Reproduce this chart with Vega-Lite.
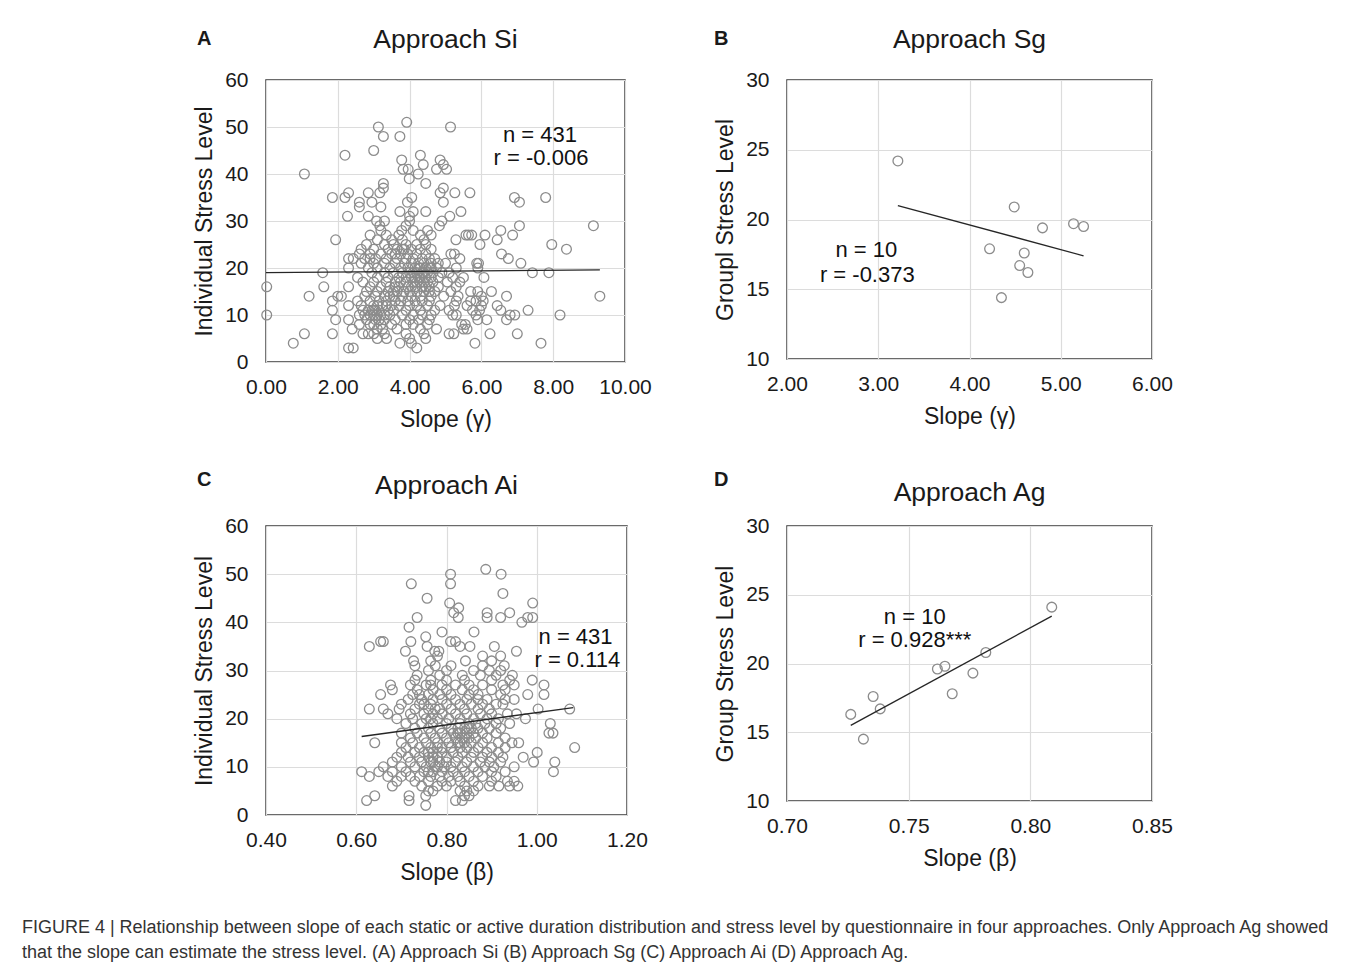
{
"$schema": "https://vega.github.io/schema/vega-lite/v6.json",
"background": "white",
"padding": {"left": 21, "top": 25, "right": 5, "bottom": 5},
"title": {"text": ["FIGURE 4 | Relationship between slope of each static or active duration distribution and stress level by questionnaire in four approaches. Only Approach Ag showed", "that the slope can estimate the stress level. (A) Approach Si (B) Approach Sg (C) Approach Ai (D) Approach Ag."], "orient": "bottom", "anchor": "start", "font": "Liberation Sans", "fontSize": 18, "fontWeight": "normal", "lineHeight": 25, "dx": -171, "offset": 34, "color": "#333333"},
"spacing": 37,
"vconcat": [
{"hconcat": [
{"title": {"text": "A", "anchor": "start", "fontSize": 20, "fontWeight": "bold", "dy": 23, "dx": 4, "offset": 0},
 "vconcat": [{
  "title": {"text": "Approach Si", "offset": 16},
  "width": 359, "height": 282,
  "encoding": {
   "x": {"field": "x", "type": "quantitative", "scale": {"domain": [0, 10], "nice": false, "zero": false}, "axis": {"title": "Slope (γ)", "values": [0, 2, 4, 6, 8, 10], "format": ".2f"}},
   "y": {"field": "y", "type": "quantitative", "scale": {"domain": [0, 60], "nice": false, "zero": false}, "axis": {"title": "Individual Stress Level", "values": [0, 10, 20, 30, 40, 50, 60]}}
  },
  "layer": [
   {"data": {"name": "A"}, "mark": {"type": "point", "shape": "circle", "filled": false, "size": 95, "color": "#8c8c8c", "strokeWidth": 1.3, "opacity": 1}},
   {"data": {"name": "LA"}, "mark": {"type": "line", "color": "#262626", "strokeWidth": 1.3}},
   {"data": {"name": "TA"}, "mark": {"type": "text", "fontSize": 22, "color": "#111111"}, "encoding": {"text": {"field": "t"}}}
  ]
 }]
},
{"title": {"text": "B", "anchor": "start", "fontSize": 20, "fontWeight": "bold", "dy": 23, "dx": 0, "offset": 0},
 "vconcat": [{
  "title": {"text": "Approach Sg", "offset": 16},
  "width": 365, "height": 279,
  "encoding": {
   "x": {"field": "x", "type": "quantitative", "scale": {"domain": [2, 6], "nice": false, "zero": false}, "axis": {"title": "Slope (γ)", "values": [2, 3, 4, 5, 6], "format": ".2f"}},
   "y": {"field": "y", "type": "quantitative", "scale": {"domain": [10, 30], "nice": false, "zero": false}, "axis": {"title": "Groupl Stress Level", "values": [10, 15, 20, 25, 30]}}
  },
  "layer": [
   {"data": {"name": "B"}, "mark": {"type": "point", "shape": "circle", "filled": false, "size": 95, "color": "#8c8c8c", "strokeWidth": 1.3, "opacity": 1}},
   {"data": {"name": "LB"}, "mark": {"type": "line", "color": "#262626", "strokeWidth": 1.3}},
   {"data": {"name": "TB"}, "mark": {"type": "text", "fontSize": 22, "color": "#111111"}, "encoding": {"text": {"field": "t"}}}
  ]
 }]
}
], "spacing": 60},
{"hconcat": [
{"title": {"text": "C", "anchor": "start", "fontSize": 20, "fontWeight": "bold", "dy": 18, "dx": 4, "offset": 0},
 "vconcat": [{
  "title": {"text": "Approach Ai", "offset": 16},
  "width": 361, "height": 289,
  "encoding": {
   "x": {"field": "x", "type": "quantitative", "scale": {"domain": [0.4, 1.2], "nice": false, "zero": false}, "axis": {"title": "Slope (β)", "values": [0.4, 0.6, 0.8, 1.0, 1.2], "format": ".2f"}},
   "y": {"field": "y", "type": "quantitative", "scale": {"domain": [0, 60], "nice": false, "zero": false}, "axis": {"title": "Individual Stress Level", "values": [0, 10, 20, 30, 40, 50, 60]}}
  },
  "layer": [
   {"data": {"name": "C"}, "mark": {"type": "point", "shape": "circle", "filled": false, "size": 95, "color": "#8c8c8c", "strokeWidth": 1.3, "opacity": 1}},
   {"data": {"name": "LC"}, "mark": {"type": "line", "color": "#262626", "strokeWidth": 1.3}},
   {"data": {"name": "TC"}, "mark": {"type": "text", "fontSize": 22, "color": "#111111"}, "encoding": {"text": {"field": "t"}}}
  ]
 }]
},
{"title": {"text": "D", "anchor": "start", "fontSize": 20, "fontWeight": "bold", "dy": 11, "dx": 0, "offset": 0},
 "vconcat": [{
  "title": {"text": "Approach Ag", "offset": 9},
  "width": 365, "height": 275,
  "encoding": {
   "x": {"field": "x", "type": "quantitative", "scale": {"domain": [0.7, 0.85], "nice": false, "zero": false}, "axis": {"title": "Slope (β)", "values": [0.7, 0.75, 0.8, 0.85], "format": ".2f"}},
   "y": {"field": "y", "type": "quantitative", "scale": {"domain": [10, 30], "nice": false, "zero": false}, "axis": {"title": "Group Stress Level", "values": [10, 15, 20, 25, 30]}}
  },
  "layer": [
   {"data": {"name": "D"}, "mark": {"type": "point", "shape": "circle", "filled": false, "size": 95, "color": "#8c8c8c", "strokeWidth": 1.3, "opacity": 1}},
   {"data": {"name": "LD"}, "mark": {"type": "line", "color": "#262626", "strokeWidth": 1.3}},
   {"data": {"name": "TD"}, "mark": {"type": "text", "fontSize": 22, "color": "#111111"}, "encoding": {"text": {"field": "t"}}}
  ]
 }]
}
], "spacing": 64}
],
"datasets": {
"LA": [{"x": 0, "y": 19.0}, {"x": 9.3, "y": 19.6}],
"LB": [{"x": 3.215, "y": 21.0}, {"x": 5.25, "y": 17.4}],
"LC": [{"x": 0.612, "y": 16.3}, {"x": 1.081, "y": 22.3}],
"LD": [{"x": 0.7262, "y": 15.5}, {"x": 0.8088, "y": 23.45}],
"TA": [{"x": 7.63, "y": 48.3, "t": "n = 431"}, {"x": 7.66, "y": 43.3, "t": "r = -0.006"}],
"TB": [{"x": 2.87, "y": 17.8, "t": "n = 10"}, {"x": 2.88, "y": 16.0, "t": "r = -0.373"}],
"TC": [{"x": 1.086, "y": 37.0, "t": "n = 431"}, {"x": 1.09, "y": 32.2, "t": "r = 0.114"}],
"TD": [{"x": 0.7525, "y": 23.4, "t": "n = 10"}, {"x": 0.7525, "y": 21.7, "t": "r = 0.928***"}],
"B": [{"x": 3.215, "y": 24.2}, {"x": 4.49, "y": 20.9}, {"x": 4.8, "y": 19.4}, {"x": 5.14, "y": 19.7}, {"x": 5.25, "y": 19.5}, {"x": 4.22, "y": 17.9}, {"x": 4.6, "y": 17.6}, {"x": 4.55, "y": 16.7}, {"x": 4.64, "y": 16.2}, {"x": 4.35, "y": 14.4}],
"D": [{"x": 0.8088, "y": 24.1}, {"x": 0.7817, "y": 20.8}, {"x": 0.7649, "y": 19.8}, {"x": 0.7618, "y": 19.6}, {"x": 0.7764, "y": 19.3}, {"x": 0.7679, "y": 17.8}, {"x": 0.7354, "y": 17.6}, {"x": 0.7383, "y": 16.7}, {"x": 0.7262, "y": 16.3}, {"x": 0.7314, "y": 14.5}],
"A": [
{"x":2.3,"y":3},{"x":2.43,"y":3},{"x":4.2,"y":3},
{"x":0.76,"y":4},{"x":3.73,"y":4},{"x":5.82,"y":4},{"x":7.66,"y":4},{"x":4.05,"y":4},
{"x":3.36,"y":5},{"x":4.0,"y":5},{"x":4.45,"y":5},{"x":3.1,"y":5},
{"x":1.07,"y":6},{"x":1.85,"y":6},{"x":2.7,"y":6},{"x":3.0,"y":6},{"x":3.3,"y":6},{"x":4.4,"y":6},{"x":5.1,"y":6},{"x":5.23,"y":6},{"x":6.24,"y":6},{"x":7.0,"y":6},{"x":2.85,"y":6},{"x":3.9,"y":6},
{"x":2.4,"y":7},{"x":3.1,"y":7},{"x":3.25,"y":7},{"x":4.75,"y":7},{"x":5.5,"y":7},{"x":5.6,"y":7},{"x":4.3,"y":7},{"x":3.65,"y":7},
{"x":2.6,"y":8},{"x":3.0,"y":8},{"x":3.2,"y":8},{"x":3.5,"y":8},{"x":3.9,"y":8},{"x":4.5,"y":8},{"x":5.45,"y":8},{"x":5.55,"y":8},{"x":2.9,"y":8},{"x":4.1,"y":8},
{"x":1.94,"y":9},{"x":2.3,"y":9},{"x":3.05,"y":9},{"x":3.3,"y":9},{"x":3.6,"y":9},{"x":4.0,"y":9},{"x":4.55,"y":9},{"x":5.9,"y":9},{"x":6.15,"y":9},{"x":6.7,"y":9},{"x":2.8,"y":9},{"x":3.15,"y":9},{"x":4.25,"y":9},
{"x":0.02,"y":10},{"x":2.6,"y":10},{"x":2.9,"y":10},{"x":3.0,"y":10},{"x":3.1,"y":10},{"x":3.3,"y":10},{"x":3.45,"y":10},{"x":3.8,"y":10},{"x":4.35,"y":10},{"x":4.6,"y":10},{"x":5.2,"y":10},{"x":5.3,"y":10},{"x":5.85,"y":10},{"x":6.8,"y":10},{"x":6.93,"y":10},{"x":8.19,"y":10},{"x":2.75,"y":10},{"x":3.2,"y":10},{"x":4.1,"y":10},
{"x":1.85,"y":11},{"x":2.7,"y":11},{"x":2.85,"y":11},{"x":3.0,"y":11},{"x":3.15,"y":11},{"x":3.4,"y":11},{"x":3.55,"y":11},{"x":3.9,"y":11},{"x":4.3,"y":11},{"x":4.7,"y":11},{"x":5.1,"y":11},{"x":5.75,"y":11},{"x":5.95,"y":11},{"x":6.54,"y":11},{"x":7.3,"y":11},{"x":3.05,"y":11},{"x":2.95,"y":11},
{"x":2.3,"y":12},{"x":2.65,"y":12},{"x":3.0,"y":12},{"x":3.25,"y":12},{"x":3.5,"y":12},{"x":3.7,"y":12},{"x":4.0,"y":12},{"x":4.2,"y":12},{"x":4.5,"y":12},{"x":4.85,"y":12},{"x":5.25,"y":12},{"x":5.6,"y":12},{"x":6.0,"y":12},{"x":6.44,"y":12},{"x":3.1,"y":12},{"x":3.35,"y":12},
{"x":1.85,"y":13},{"x":2.55,"y":13},{"x":2.9,"y":13},{"x":3.15,"y":13},{"x":3.35,"y":13},{"x":3.6,"y":13},{"x":3.95,"y":13},{"x":4.15,"y":13},{"x":4.35,"y":13},{"x":4.55,"y":13},{"x":5.3,"y":13},{"x":5.7,"y":13},{"x":5.85,"y":13},{"x":6.05,"y":13},{"x":3.75,"y":13},
{"x":1.2,"y":14},{"x":2.0,"y":14},{"x":2.1,"y":14},{"x":2.75,"y":14},{"x":3.05,"y":14},{"x":3.3,"y":14},{"x":3.55,"y":14},{"x":3.8,"y":14},{"x":4.05,"y":14},{"x":4.3,"y":14},{"x":4.6,"y":14},{"x":4.95,"y":14},{"x":5.35,"y":14},{"x":6.0,"y":14},{"x":6.7,"y":14},{"x":9.3,"y":14},{"x":3.45,"y":14},
{"x":2.8,"y":15},{"x":3.1,"y":15},{"x":3.4,"y":15},{"x":3.65,"y":15},{"x":3.85,"y":15},{"x":4.2,"y":15},{"x":4.4,"y":15},{"x":4.7,"y":15},{"x":5.15,"y":15},{"x":5.7,"y":15},{"x":5.9,"y":15},{"x":6.28,"y":15},{"x":3.55,"y":15},{"x":4.0,"y":15},{"x":4.55,"y":15},
{"x":0.02,"y":16},{"x":1.61,"y":16},{"x":2.3,"y":16},{"x":2.9,"y":16},{"x":3.2,"y":16},{"x":3.45,"y":16},{"x":3.7,"y":16},{"x":3.95,"y":16},{"x":4.15,"y":16},{"x":4.35,"y":16},{"x":4.55,"y":16},{"x":4.8,"y":16},{"x":5.3,"y":16},{"x":3.6,"y":16},{"x":4.05,"y":16},{"x":4.45,"y":16},
{"x":2.7,"y":17},{"x":3.0,"y":17},{"x":3.35,"y":17},{"x":3.6,"y":17},{"x":3.75,"y":17},{"x":3.9,"y":17},{"x":4.1,"y":17},{"x":4.3,"y":17},{"x":4.5,"y":17},{"x":4.65,"y":17},{"x":5.05,"y":17},{"x":5.4,"y":17},{"x":4.2,"y":17},{"x":4.4,"y":17},
{"x":2.55,"y":18},{"x":3.1,"y":18},{"x":3.4,"y":18},{"x":3.7,"y":18},{"x":3.9,"y":18},{"x":4.15,"y":18},{"x":4.3,"y":18},{"x":4.45,"y":18},{"x":4.6,"y":18},{"x":4.8,"y":18},{"x":5.2,"y":18},{"x":5.5,"y":18},{"x":6.07,"y":18},{"x":4.05,"y":18},{"x":4.25,"y":18},
{"x":1.58,"y":19},{"x":2.95,"y":19},{"x":3.3,"y":19},{"x":3.55,"y":19},{"x":3.8,"y":19},{"x":4.0,"y":19},{"x":4.2,"y":19},{"x":4.35,"y":19},{"x":4.5,"y":19},{"x":4.65,"y":19},{"x":4.9,"y":19},{"x":5.1,"y":19},{"x":7.42,"y":19},{"x":7.88,"y":19},{"x":4.1,"y":19},{"x":4.4,"y":19},
{"x":2.3,"y":20},{"x":2.85,"y":20},{"x":3.1,"y":20},{"x":3.45,"y":20},{"x":3.75,"y":20},{"x":3.95,"y":20},{"x":4.15,"y":20},{"x":4.3,"y":20},{"x":4.45,"y":20},{"x":4.6,"y":20},{"x":4.75,"y":20},{"x":5.3,"y":20},{"x":5.9,"y":20},{"x":4.25,"y":20},{"x":4.55,"y":20},
{"x":2.65,"y":21},{"x":3.0,"y":21},{"x":3.3,"y":21},{"x":3.6,"y":21},{"x":3.85,"y":21},{"x":4.05,"y":21},{"x":4.25,"y":21},{"x":4.4,"y":21},{"x":4.6,"y":21},{"x":4.8,"y":21},{"x":5.0,"y":21},{"x":5.87,"y":21},{"x":5.92,"y":21},{"x":7.1,"y":21},
{"x":2.3,"y":22},{"x":2.43,"y":22},{"x":2.75,"y":22},{"x":3.05,"y":22},{"x":3.35,"y":22},{"x":3.65,"y":22},{"x":3.9,"y":22},{"x":4.1,"y":22},{"x":4.35,"y":22},{"x":4.55,"y":22},{"x":4.7,"y":22},{"x":5.4,"y":22},{"x":6.75,"y":22},{"x":2.9,"y":22},
{"x":2.6,"y":23},{"x":2.9,"y":23},{"x":3.2,"y":23},{"x":3.5,"y":23},{"x":3.75,"y":23},{"x":3.95,"y":23},{"x":4.2,"y":23},{"x":4.45,"y":23},{"x":5.15,"y":23},{"x":5.25,"y":23},{"x":6.56,"y":23},{"x":3.6,"y":23},
{"x":2.65,"y":24},{"x":3.0,"y":24},{"x":3.4,"y":24},{"x":3.65,"y":24},{"x":3.85,"y":24},{"x":4.05,"y":24},{"x":4.3,"y":24},{"x":4.6,"y":24},{"x":8.37,"y":24},{"x":3.8,"y":24},
{"x":2.8,"y":25},{"x":3.3,"y":25},{"x":3.55,"y":25},{"x":3.9,"y":25},{"x":4.2,"y":25},{"x":4.45,"y":25},{"x":5.96,"y":25},{"x":7.96,"y":25},
{"x":1.94,"y":26},{"x":3.1,"y":26},{"x":3.5,"y":26},{"x":3.8,"y":26},{"x":4.4,"y":26},{"x":5.29,"y":26},{"x":6.44,"y":26},
{"x":2.9,"y":27},{"x":3.35,"y":27},{"x":3.7,"y":27},{"x":4.6,"y":27},{"x":5.57,"y":27},{"x":5.64,"y":27},{"x":5.73,"y":27},{"x":6.1,"y":27},{"x":6.87,"y":27},{"x":4.3,"y":27},
{"x":3.2,"y":28},{"x":3.78,"y":28},{"x":4.1,"y":28},{"x":4.5,"y":28},{"x":6.54,"y":28},
{"x":3.17,"y":29},{"x":3.9,"y":29},{"x":4.83,"y":29},{"x":9.12,"y":29},{"x":7.06,"y":29},
{"x":3.08,"y":30},{"x":3.3,"y":30},{"x":4.0,"y":30},{"x":4.9,"y":30},
{"x":2.27,"y":31},{"x":2.85,"y":31},{"x":4.0,"y":31},{"x":5.12,"y":31},
{"x":3.73,"y":32},{"x":4.1,"y":32},{"x":4.45,"y":32},{"x":5.43,"y":32},
{"x":2.6,"y":33},{"x":3.2,"y":33},
{"x":2.6,"y":34},{"x":2.95,"y":34},{"x":3.94,"y":34},{"x":4.94,"y":34},{"x":7.06,"y":34},
{"x":1.85,"y":35},{"x":2.2,"y":35},{"x":4.06,"y":35},{"x":6.92,"y":35},{"x":7.79,"y":35},
{"x":2.3,"y":36},{"x":2.85,"y":36},{"x":3.17,"y":36},{"x":4.85,"y":36},{"x":5.26,"y":36},{"x":5.68,"y":36},
{"x":3.27,"y":37},{"x":4.94,"y":37},
{"x":3.27,"y":38},{"x":4.45,"y":38},
{"x":3.99,"y":39},
{"x":1.07,"y":40},{"x":4.24,"y":40},
{"x":3.82,"y":41},{"x":3.96,"y":41},{"x":5.03,"y":41},{"x":4.75,"y":41},
{"x":4.38,"y":42},{"x":4.94,"y":42},
{"x":3.78,"y":43},{"x":4.85,"y":43},
{"x":2.2,"y":44},{"x":4.3,"y":44},
{"x":3.0,"y":45},
{"x":3.27,"y":48},{"x":3.73,"y":48},
{"x":3.13,"y":50},{"x":5.14,"y":50},
{"x":3.92,"y":51}
],
"C": [
{"x":0.754,"y":2},
{"x":0.623,"y":3},{"x":0.717,"y":3},{"x":0.82,"y":3},{"x":0.835,"y":3},
{"x":0.641,"y":4},{"x":0.717,"y":4},{"x":0.754,"y":4},{"x":0.84,"y":4},{"x":0.85,"y":4},
{"x":0.77,"y":5},{"x":0.83,"y":5},{"x":0.845,"y":5},{"x":0.86,"y":5},{"x":0.76,"y":5},
{"x":0.68,"y":6},{"x":0.745,"y":6},{"x":0.78,"y":6},{"x":0.84,"y":6},{"x":0.87,"y":6},{"x":0.895,"y":6},{"x":0.916,"y":6},{"x":0.94,"y":6},{"x":0.958,"y":6},{"x":0.8,"y":6},
{"x":0.69,"y":7},{"x":0.73,"y":7},{"x":0.76,"y":7},{"x":0.79,"y":7},{"x":0.81,"y":7},{"x":0.83,"y":7},{"x":0.86,"y":7},{"x":0.9,"y":7},{"x":0.935,"y":7},{"x":0.95,"y":7},
{"x":0.629,"y":8},{"x":0.67,"y":8},{"x":0.7,"y":8},{"x":0.74,"y":8},{"x":0.765,"y":8},{"x":0.785,"y":8},{"x":0.805,"y":8},{"x":0.825,"y":8},{"x":0.85,"y":8},{"x":0.88,"y":8},{"x":0.91,"y":8},{"x":0.72,"y":8},
{"x":0.612,"y":9},{"x":0.65,"y":9},{"x":0.68,"y":9},{"x":0.71,"y":9},{"x":0.75,"y":9},{"x":0.77,"y":9},{"x":0.79,"y":9},{"x":0.815,"y":9},{"x":0.84,"y":9},{"x":0.87,"y":9},{"x":0.9,"y":9},{"x":0.93,"y":9},{"x":1.037,"y":9},{"x":0.76,"y":9},
{"x":0.66,"y":10},{"x":0.7,"y":10},{"x":0.73,"y":10},{"x":0.755,"y":10},{"x":0.775,"y":10},{"x":0.795,"y":10},{"x":0.81,"y":10},{"x":0.835,"y":10},{"x":0.86,"y":10},{"x":0.885,"y":10},{"x":0.905,"y":10},{"x":0.95,"y":10},{"x":0.78,"y":10},
{"x":0.68,"y":11},{"x":0.72,"y":11},{"x":0.745,"y":11},{"x":0.765,"y":11},{"x":0.785,"y":11},{"x":0.8,"y":11},{"x":0.82,"y":11},{"x":0.845,"y":11},{"x":0.875,"y":11},{"x":0.895,"y":11},{"x":0.92,"y":11},{"x":0.993,"y":11},{"x":1.04,"y":11},{"x":0.77,"y":11},
{"x":0.69,"y":12},{"x":0.715,"y":12},{"x":0.74,"y":12},{"x":0.76,"y":12},{"x":0.78,"y":12},{"x":0.8,"y":12},{"x":0.825,"y":12},{"x":0.855,"y":12},{"x":0.88,"y":12},{"x":0.9,"y":12},{"x":0.925,"y":12},{"x":0.97,"y":12},{"x":0.77,"y":12},
{"x":0.7,"y":13},{"x":0.73,"y":13},{"x":0.75,"y":13},{"x":0.77,"y":13},{"x":0.79,"y":13},{"x":0.815,"y":13},{"x":0.835,"y":13},{"x":0.86,"y":13},{"x":0.89,"y":13},{"x":0.915,"y":13},{"x":1.001,"y":13},{"x":0.76,"y":13},
{"x":0.71,"y":14},{"x":0.74,"y":14},{"x":0.765,"y":14},{"x":0.79,"y":14},{"x":0.81,"y":14},{"x":0.83,"y":14},{"x":0.845,"y":14},{"x":0.87,"y":14},{"x":0.9,"y":14},{"x":0.93,"y":14},{"x":1.084,"y":14},{"x":0.78,"y":14},
{"x":0.641,"y":15},{"x":0.7,"y":15},{"x":0.725,"y":15},{"x":0.755,"y":15},{"x":0.78,"y":15},{"x":0.805,"y":15},{"x":0.825,"y":15},{"x":0.84,"y":15},{"x":0.855,"y":15},{"x":0.88,"y":15},{"x":0.915,"y":15},{"x":0.945,"y":15},{"x":0.96,"y":15},{"x":0.83,"y":15},
{"x":0.72,"y":16},{"x":0.75,"y":16},{"x":0.775,"y":16},{"x":0.8,"y":16},{"x":0.82,"y":16},{"x":0.835,"y":16},{"x":0.85,"y":16},{"x":0.865,"y":16},{"x":0.89,"y":16},{"x":0.93,"y":16},{"x":0.84,"y":16},
{"x":0.7,"y":17},{"x":0.735,"y":17},{"x":0.765,"y":17},{"x":0.79,"y":17},{"x":0.815,"y":17},{"x":0.83,"y":17},{"x":0.845,"y":17},{"x":0.86,"y":17},{"x":0.88,"y":17},{"x":0.91,"y":17},{"x":1.027,"y":17},{"x":1.036,"y":17},{"x":0.825,"y":17},
{"x":0.73,"y":18},{"x":0.76,"y":18},{"x":0.785,"y":18},{"x":0.81,"y":18},{"x":0.825,"y":18},{"x":0.84,"y":18},{"x":0.855,"y":18},{"x":0.87,"y":18},{"x":0.895,"y":18},{"x":0.92,"y":18},{"x":0.85,"y":18},
{"x":0.71,"y":19},{"x":0.745,"y":19},{"x":0.77,"y":19},{"x":0.8,"y":19},{"x":0.83,"y":19},{"x":0.85,"y":19},{"x":0.865,"y":19},{"x":0.885,"y":19},{"x":0.91,"y":19},{"x":0.94,"y":19},{"x":1.03,"y":19},
{"x":0.69,"y":20},{"x":0.725,"y":20},{"x":0.755,"y":20},{"x":0.78,"y":20},{"x":0.805,"y":20},{"x":0.83,"y":20},{"x":0.86,"y":20},{"x":0.89,"y":20},{"x":0.915,"y":20},{"x":0.975,"y":20},{"x":0.765,"y":20},
{"x":0.67,"y":21},{"x":0.72,"y":21},{"x":0.75,"y":21},{"x":0.77,"y":21},{"x":0.79,"y":21},{"x":0.82,"y":21},{"x":0.845,"y":21},{"x":0.875,"y":21},{"x":0.9,"y":21},{"x":0.935,"y":21},{"x":0.955,"y":21},
{"x":0.629,"y":22},{"x":0.66,"y":22},{"x":0.695,"y":22},{"x":0.73,"y":22},{"x":0.76,"y":22},{"x":0.785,"y":22},{"x":0.81,"y":22},{"x":0.84,"y":22},{"x":0.87,"y":22},{"x":0.895,"y":22},{"x":1.003,"y":22},{"x":1.073,"y":22},{"x":0.775,"y":22},
{"x":0.7,"y":23},{"x":0.74,"y":23},{"x":0.765,"y":23},{"x":0.8,"y":23},{"x":0.83,"y":23},{"x":0.855,"y":23},{"x":0.88,"y":23},{"x":0.91,"y":23},{"x":0.925,"y":23},{"x":0.75,"y":23},
{"x":0.715,"y":24},{"x":0.745,"y":24},{"x":0.77,"y":24},{"x":0.79,"y":24},{"x":0.82,"y":24},{"x":0.845,"y":24},{"x":0.87,"y":24},{"x":0.89,"y":24},{"x":0.93,"y":24},{"x":0.95,"y":24},
{"x":0.654,"y":25},{"x":0.725,"y":25},{"x":0.76,"y":25},{"x":0.785,"y":25},{"x":0.81,"y":25},{"x":0.85,"y":25},{"x":0.87,"y":25},{"x":0.92,"y":25},{"x":0.98,"y":25},{"x":1.016,"y":25},{"x":0.74,"y":25},
{"x":0.68,"y":26},{"x":0.735,"y":26},{"x":0.77,"y":26},{"x":0.8,"y":26},{"x":0.835,"y":26},{"x":0.86,"y":26},{"x":0.9,"y":26},{"x":0.93,"y":26},
{"x":0.676,"y":27},{"x":0.72,"y":27},{"x":0.755,"y":27},{"x":0.79,"y":27},{"x":0.82,"y":27},{"x":0.85,"y":27},{"x":0.88,"y":27},{"x":0.925,"y":27},{"x":0.95,"y":27},{"x":1.016,"y":27},{"x":0.765,"y":27},
{"x":0.73,"y":28},{"x":0.765,"y":28},{"x":0.8,"y":28},{"x":0.84,"y":28},{"x":0.9,"y":28},{"x":0.94,"y":28},{"x":0.99,"y":28},
{"x":0.735,"y":29},{"x":0.785,"y":29},{"x":0.835,"y":29},{"x":0.875,"y":29},{"x":0.91,"y":29},{"x":0.946,"y":29},
{"x":0.76,"y":30},{"x":0.8,"y":30},{"x":0.86,"y":30},{"x":0.92,"y":30},{"x":0.895,"y":30},
{"x":0.73,"y":31},{"x":0.81,"y":31},{"x":0.88,"y":31},{"x":0.928,"y":31},{"x":0.775,"y":31},
{"x":0.727,"y":32},{"x":0.765,"y":32},{"x":0.842,"y":32},{"x":0.9,"y":32},
{"x":0.78,"y":33},{"x":0.88,"y":33},{"x":0.92,"y":33},
{"x":0.709,"y":34},{"x":0.774,"y":34},{"x":0.783,"y":34},{"x":0.955,"y":34},
{"x":0.629,"y":35},{"x":0.757,"y":35},{"x":0.83,"y":35},{"x":0.852,"y":35},{"x":0.906,"y":35},
{"x":0.654,"y":36},{"x":0.66,"y":36},{"x":0.721,"y":36},{"x":0.809,"y":36},{"x":0.82,"y":36},
{"x":0.754,"y":37},
{"x":0.79,"y":38},{"x":0.861,"y":38},
{"x":0.717,"y":39},
{"x":0.967,"y":40},
{"x":0.735,"y":41},{"x":0.826,"y":41},{"x":0.89,"y":41},{"x":0.92,"y":41},{"x":0.98,"y":41},{"x":0.991,"y":41},
{"x":0.816,"y":42},{"x":0.89,"y":42},{"x":0.94,"y":42},
{"x":0.827,"y":43},
{"x":0.807,"y":44},{"x":0.991,"y":44},
{"x":0.757,"y":45},
{"x":0.925,"y":46},
{"x":0.722,"y":48},{"x":0.809,"y":48},
{"x":0.809,"y":50},{"x":0.921,"y":50},
{"x":0.887,"y":51}
]
},
"config": {
 "font": "Liberation Sans",
 "view": {"stroke": "#3a3a3a", "strokeWidth": 1.5},
 "axis": {"labelFont": "Liberation Sans", "titleFont": "Liberation Sans", "labelFontSize": 21, "titleFontSize": 23, "titleFontWeight": "normal", "labelColor": "#1a1a1a", "titleColor": "#1a1a1a", "gridColor": "#dcdcdc", "gridWidth": 1.2, "domain": false, "ticks": false, "labelFlush": false, "labelOverlap": false},
 "axisX": {"labelPadding": 14, "titlePadding": 11},
 "axisY": {"labelPadding": 18, "titlePadding": 8},
 "title": {"font": "Liberation Sans", "fontSize": 26.5, "fontWeight": "normal", "color": "#1a1a1a"}
}
}
